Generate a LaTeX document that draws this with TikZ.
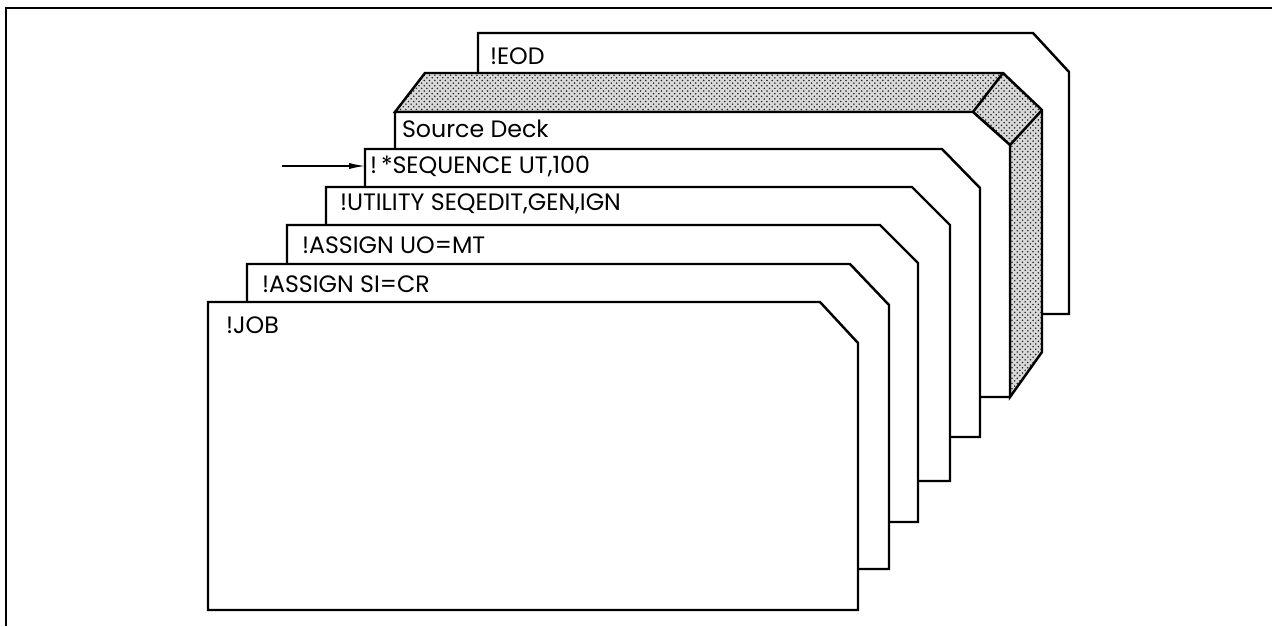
\documentclass[tikz,border=0pt]{standalone}
\usepackage{fontspec}
\usepackage{tikz}
\setmainfont{Poppins}
\usetikzlibrary{positioning, arrows.meta, patterns}

\begin{document}
\begin{tikzpicture}[
  x=0.02cm, y=-0.02cm,
  every node/.style={font=\fontsize{13.5}{15}\selectfont, inner sep=0pt, outer sep=0pt, anchor=west},
  card/.style={draw, fill=white, line width=1.4pt, line join=miter},
  deck/.style={draw, line width=1.4pt, preaction={fill=gray!30}, pattern=crosshatch dots, pattern color=black!85},
  edge/.style={line width=1.4pt},
  arr/.style={-{Latex[length=9pt, width=3.5pt]}, line width=0.8pt}
]
  \useasboundingbox (0,0) rectangle (1272,626);
  % Frame
  \draw[line width=1.6pt] (6,626) -- (6,8) -- (1272,8);

  % Back card
  \draw[card] (478,300) -- (478,33) -- (1033,33) -- (1069,72) -- (1069,314) -- (1000,314) -- cycle;
  \node (eod) at (490,56) {!EOD};

  % Source deck block (shaded top and side)
  \draw[deck] (395,112) -- (425,73) -- (1003,73) -- (1042,110) -- (1042,352) -- (1010,397) -- (1010,145) -- (973,112) -- cycle;
  \draw[edge] (1003,73) -- (973,112);
  \draw[edge] (1042,110) -- (1010,145);
  \draw[card] (395,397) -- (395,112) -- (973,112) -- (1010,145) -- (1010,397) -- cycle;
  \node (src) at (402,129) {Source Deck};

  % Control cards
  \draw[card] (365,437) -- (365,149) -- (942,149) -- (980,188) -- (980,437) -- cycle;
  \node (seq) at (370,166) {!\,*SEQUENCE UT,100};
  \draw[card] (326,481) -- (326,187) -- (912,187) -- (950,225) -- (950,481) -- cycle;
  \node (util) at (340,204) {!UTILITY SEQEDIT,GEN,IGN};
  \draw[card] (287,522) -- (287,225) -- (880,225) -- (918,263) -- (918,522) -- cycle;
  \node (asuo) at (302,245) {!ASSIGN UO=MT};
  \draw[card] (247,569) -- (247,264) -- (850,264) -- (889,305) -- (889,569) -- cycle;
  \node (assi) at (262,284) {!ASSIGN SI=CR};
  \draw[card] (208,610) -- (208,302) -- (820,302) -- (858,343) -- (858,610) -- cycle;
  \node (job) at (226,325) {!JOB};

  % Arrow to sequence card
  \coordinate (arrtail) at (282,166);
  \coordinate (seqedge) at (365,166);
  \draw[arr] (arrtail) -- (seqedge);
\end{tikzpicture}
\end{document}
